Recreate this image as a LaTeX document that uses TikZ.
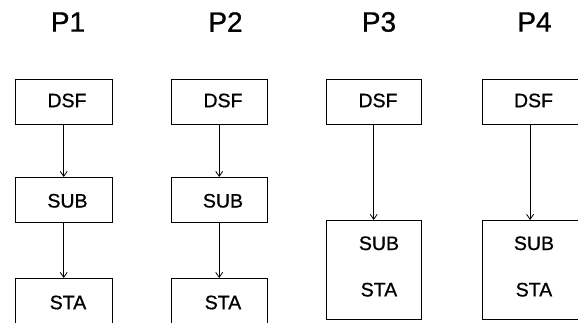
\documentclass[tikz,border=0pt]{standalone}
\usepackage{fontspec}
\setmainfont{Liberation Sans}
\newfontfamily\heavysans{Liberation Sans}[FakeBold=0.8]
\usetikzlibrary{arrows.meta}
\begin{document}
\begin{tikzpicture}[x=1pt,y=-1pt,
  box/.style={draw,line width=1pt,inner sep=0pt,anchor=north west},
  lbl/.style={font=\heavysans\fontsize{19.5}{22}\selectfont,inner sep=0pt},
  ttl/.style={font=\heavysans\fontsize{28}{32}\selectfont,inner sep=0pt},
  conn/.style={-{Straight Barb[length=5pt,width=7pt,line width=0.8pt]},line width=0.8pt}]
\useasboundingbox (0,0) rectangle (578,322);
\clip (0,0) rectangle (578,322);
% titles
\node[ttl] (t1) at (68,22) {P1};
\node[ttl] (t2) at (225.5,22) {P2};
\node[ttl] (t3) at (379,22) {P3};
\node[ttl] (t4) at (534.5,22) {P4};
% P1
\node[box,minimum width=97pt,minimum height=44.5pt] (d1) at (14.7,79) {};
\node[box,minimum width=97pt,minimum height=45pt] (s1) at (14.7,177) {};
\node[box,minimum width=97pt,minimum height=60pt] (a1) at (14.7,278) {};
\node[lbl] (d1l) at (67,100.5) {DSF};
\node[lbl] (s1l) at (67.5,200.8) {SUB};
\node[lbl] (a1l) at (68,302.5) {STA};
\draw[conn] (d1.south) -- (s1.north);
\draw[conn] (s1.south) -- (a1.north);
% P2
\node[box,minimum width=96pt,minimum height=44.5pt] (d2) at (170.7,79) {};
\node[box,minimum width=96pt,minimum height=45pt] (s2) at (170.7,177) {};
\node[box,minimum width=96pt,minimum height=60pt] (a2) at (170.7,278) {};
\node[lbl] (d2l) at (223,100.5) {DSF};
\node[lbl] (s2l) at (223,200.8) {SUB};
\node[lbl] (a2l) at (223,302.5) {STA};
\draw[conn] (d2.south) -- (s2.north);
\draw[conn] (s2.south) -- (a2.north);
% P3
\node[box,minimum width=95pt,minimum height=45pt] (d3) at (325.7,78.7) {};
\node[box,minimum width=95pt,minimum height=99pt] (c3) at (325.7,220) {};
\node[lbl] (d3l) at (378,100.5) {DSF};
\node[lbl] (s3l) at (379,243.3) {SUB};
\node[lbl] (a3l) at (379,289.7) {STA};
\draw[conn] (d3.south) -- (c3.north);
% P4
\node[box,minimum width=95.8pt,minimum height=45pt] (d4) at (481.7,78.7) {};
\node[box,minimum width=95.8pt,minimum height=99pt] (c4) at (481.7,220) {};
\node[lbl] (d4l) at (533.5,100.5) {DSF};
\node[lbl] (s4l) at (534,243.3) {SUB};
\node[lbl] (a4l) at (534,289.7) {STA};
\draw[conn] (d4.south) -- (c4.north);
\end{tikzpicture}
\end{document}
